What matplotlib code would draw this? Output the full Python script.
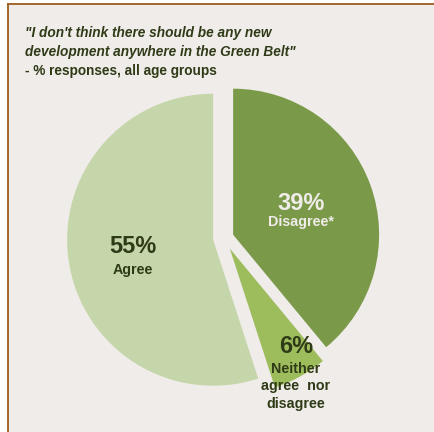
import numpy as np
import matplotlib.pyplot as plt
from matplotlib.lines import Line2D
from matplotlib.patches import Rectangle

plt.rcParams["font.family"] = ["Liberation Sans", "DejaVu Sans"]

labels = ["Disagree*", "Neither\nagree  nor\ndisagree", "Agree"]
shares = [39, 6, 55]
colors = ["#7b9a49", "#9dbd5d", "#c6d6ab"]
title_lines = [
    '"I don\'t think there should be any new',
    'development anywhere in the Green Belt"',
]
subtitle = "- % responses, all age groups"

W, H = 434, 432
bg = "#f0ecea"
dark = "#2f3b17"
frame = "#9c5a1e"

fig = plt.figure(figsize=(W / 100, H / 100), dpi=100, facecolor="white")
ax = fig.add_axes([0, 0, 1, 1])

# panel background and brown frame (top + left)
ax.add_patch(Rectangle((8, 0), W - 8, H - 4, facecolor=bg, edgecolor="none", zorder=0))
ax.add_line(Line2D([8, W], [H - 4, H - 4], color=frame, lw=1.3, zorder=1))
ax.add_line(Line2D([8, 8], [0, H - 4], color=frame, lw=1.3, zorder=1))

R = 146
wedges, _ = ax.pie(
    shares,
    colors=colors,
    explode=[9.7, 12, 11],  # in axis units (pixels here)
    startangle=90,
    counterclock=False,
    radius=R,
    center=(224, H - 238),
    wedgeprops=dict(linewidth=0),
)

# label placement: (angle, fraction of radius) relative to each wedge's centre
spots = [(25, 0.51), (-56, 0.81), (185, 0.55)]
gaps = [12, 15, 16]
pct_color = [bg, dark, dark]
for w, s, lab, (ang, frac), g, c in zip(wedges, shares, labels, spots, gaps, pct_color):
    cx, cy = w.center
    x = cx + frac * R * np.cos(np.radians(ang))
    y = cy + frac * R * np.sin(np.radians(ang))
    ax.text(x, y, f"{s}%", ha="center", va="center", fontsize=17,
            fontweight="bold", color=c)
    ax.text(x, y - g, lab, ha="center", va="top", fontsize=10.3,
            fontweight="bold", color=c, linespacing=1.33)

for i, line in enumerate(title_lines):
    ax.text(25, H - 33 - i * 19, line, ha="left", va="center", fontsize=9.8,
            fontweight="bold", fontstyle="italic", color=dark)
ax.text(25, H - 71, subtitle, ha="left", va="center", fontsize=9.8,
        fontweight="bold", color=dark)

ax.set_xlim(0, W)
ax.set_ylim(0, H)
ax.set_aspect("equal")
ax.axis("off")

fig.savefig("out.png", dpi=100, facecolor="white")
